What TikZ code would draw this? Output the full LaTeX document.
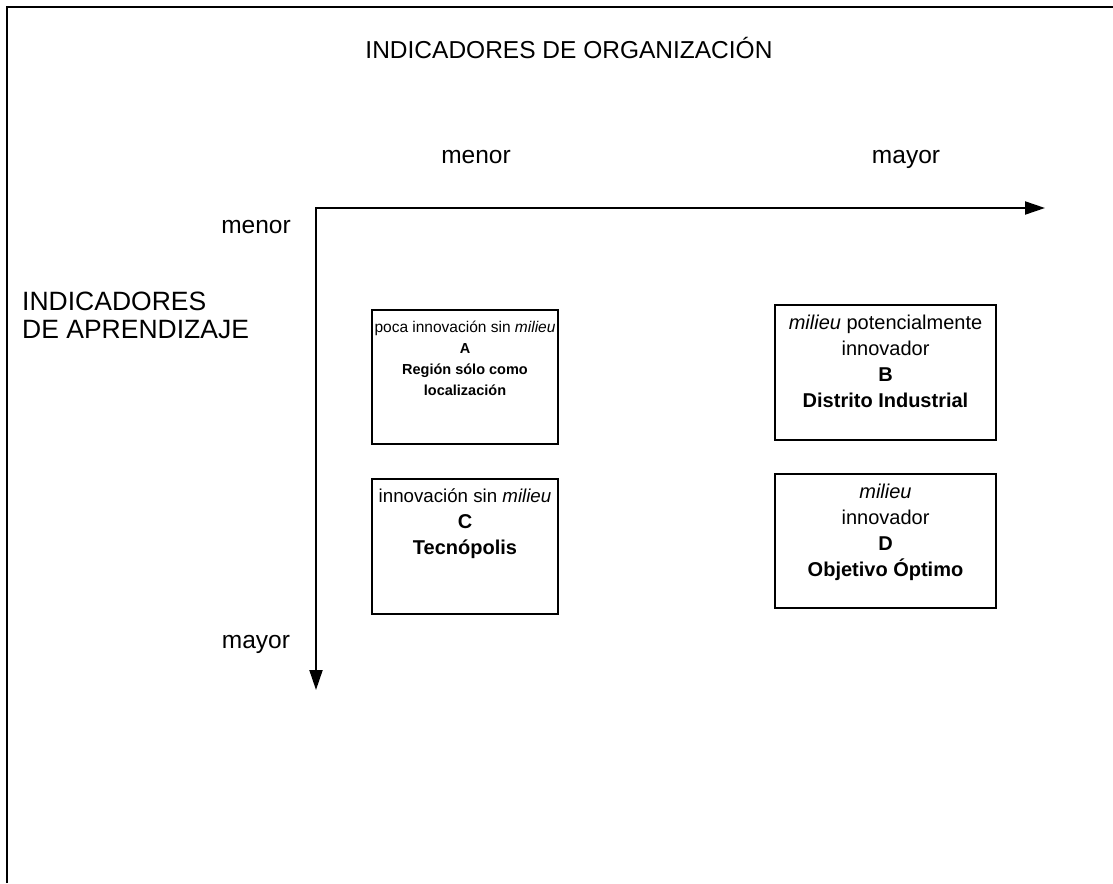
\documentclass[tikz,border=0pt]{standalone}
\usepackage{fontspec}
\setmainfont{Liberation Sans}
\usetikzlibrary{arrows.meta}
\begin{document}
\begin{tikzpicture}[x=1pt,y=-1pt,
  big/.style={font=\fontsize{24.5}{28}\selectfont, inner sep=0pt},
  quad/.style={draw, line width=1.4pt, inner sep=0pt},
  smalltxt/.style={font=\fontsize{15.5}{21}\selectfont, inner sep=0pt, align=center, anchor=north},
  midtxt/.style={font=\fontsize{20}{26}\selectfont, inner sep=0pt, align=center, anchor=north},
  axis/.style={line width=2pt, {Triangle[length=20pt,width=13pt]}-{Triangle[length=20pt,width=13pt]}}]
\useasboundingbox (0,0) rectangle (1113,883);
% frame (only top and left edges visible)
\coordinate (f1) at (7,883);
\coordinate (f2) at (7,7);
\coordinate (f3) at (1113,7);
\draw[line width=2.4pt] (f1) -- (f2) -- (f3);
% title
\node[big, anchor=base] (title) at (569,59) {INDICADORES DE ORGANIZACIÓN};
\node[big, anchor=base] (tmenor) at (476,163) {menor};
\node[big, anchor=base] (tmayor) at (906,163) {mayor};
\node[big, anchor=base] (lmenor) at (256,233) {menor};
\node[big, anchor=base] (lmayor) at (256,648) {mayor};
\node[big, font=\fontsize{26.5}{28}\selectfont, anchor=north west, align=left] (ylab) at (22,292) {INDICADORES\\DE APRENDIZAJE};
% axes
\coordinate (X) at (1045,208);
\coordinate (Y) at (316,690);
\draw[axis] (Y) |- (X);
% boxes
\node[quad, minimum width=186pt, minimum height=134pt] (A) at (465,377) {};
\node[quad, minimum width=221pt, minimum height=135pt] (B) at (885.5,372.5) {};
\node[quad, minimum width=186pt, minimum height=135pt] (C) at (465,546.5) {};
\node[quad, minimum width=221pt, minimum height=134pt] (D) at (885.5,541) {};
\node[smalltxt, yshift=-12pt] (At) at (A.north) {poca innovación sin \textit{milieu}\\{\fontsize{14.5}{21}\selectfont\bfseries A}\\{\fontsize{14.5}{21}\selectfont\bfseries Región sólo como}\\{\fontsize{14.5}{21}\selectfont\bfseries localización}};
\node[midtxt, yshift=-11pt] (Bt) at (B.north) {\textit{milieu} potencialmente\\innovador\\\textbf{B}\\\textbf{Distrito Industrial}};
\node[midtxt, yshift=-10pt] (Ct) at (C.north) {{\fontsize{18.7}{26}\selectfont innovación sin \textit{milieu}}\\\textbf{C}\\\textbf{Tecnópolis}};
\node[midtxt, yshift=-10.5pt] (Dt) at (D.north) {\textit{milieu}\\innovador\\\textbf{D}\\\textbf{Objetivo Óptimo}};
\end{tikzpicture}
\end{document}
